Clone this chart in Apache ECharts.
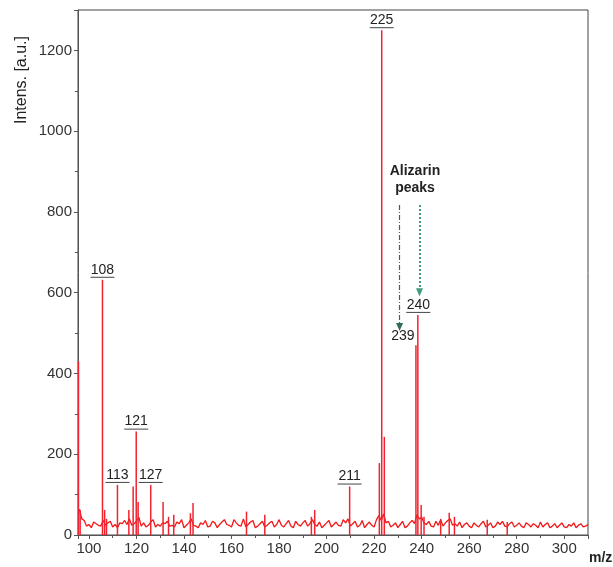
<!DOCTYPE html>
<html>
<head>
<meta charset="utf-8">
<script src="https://cdn.jsdelivr.net/npm/echarts@6/dist/echarts.min.js"></script>
<style>
  html, body { margin: 0; padding: 0; background: #fff; }
  #chart { width: 613px; height: 567px; }
</style>
</head>
<body>
<div id="chart"></div>
<script>
// noisy baseline, one value per m/z unit starting at baselineStart
const baselineStart = 96;
const baselineValues = [
  64, 40, 36, 22, 26, 18, 32, 28, 24, 22,
  36, 24, 30, 34, 20, 26, 18, 30, 28, 36,
  26, 40, 24, 28, 34, 44, 22, 30, 20, 24,
  32, 38, 20, 26, 22, 30, 28, 34, 22, 24,
  20, 32, 28, 38, 18, 24, 30, 40, 24, 22,
  18, 30, 26, 36, 20, 22, 34, 30, 18, 26,
  32, 38, 26, 24, 20, 38, 30, 24, 22, 40,
  20, 26, 32, 36, 18, 22, 28, 34, 20, 24,
  30, 34, 20, 26, 38, 24, 20, 28, 36, 22,
  18, 34, 26, 22, 30, 36, 22, 28, 38, 26,
  22, 32, 18, 24, 30, 36, 20, 26, 32, 24,
  22, 38, 30, 40, 22, 28, 34, 20, 24, 36,
  18, 26, 32, 24, 20, 38, 48, 36, 52, 30,
  34, 20, 24, 30, 18, 26, 34, 18, 22, 30,
  36, 28, 50, 40, 44, 30, 26, 34, 22, 20,
  34, 24, 38, 22, 30, 36, 40, 24, 28, 22,
  32, 18, 26, 30, 22, 18, 30, 24, 20, 28,
  34, 20, 24, 30, 18, 22, 32, 26, 34, 22,
  20, 28, 32, 20, 24, 30, 22, 18, 30, 26,
  20, 28, 24, 18, 32, 20, 26, 30, 18, 22,
  28, 18, 24, 30, 20, 18, 26, 22, 30, 18,
  24, 28, 20, 22, 26
];

// peaks [m/z, intensity]
const peaks = [
  [95.6, 430], [96.3, 62], [105.7, 632], [106.6, 62], [107.4, 40],
  [112.0, 124], [116.8, 62], [118.6, 120], [119.9, 256], [120.7, 82],
  [126.0, 124], [131.2, 82], [133.5, 45], [135.7, 50], [142.7, 54],
  [143.8, 79], [166.3, 58], [174.0, 50], [193.6, 45], [195.0, 62],
  [209.7, 120], [222.2, 178], [223.2, 1250], [224.3, 243],
  [237.6, 470], [238.4, 545], [239.8, 74], [241.0, 45],
  [248.0, 40], [251.6, 55], [253.8, 45], [267.6, 38], [276.0, 32]
];

// underlined peak labels [text, m/z, intensity]
const peakLabels = [
  ['108', 105.7, 632], ['113', 112.0, 124], ['121', 119.9, 256],
  ['127', 126.0, 124], ['211', 209.7, 120], ['225', 223.2, 1250],
  ['240', 238.6, 545]
];

// annotation arrows [m/z, from, to]
const arrows = [
  [230.7, 817, 515],
  [239.1, 817, 601]
];

const FONT = 'Liberation Sans';

const lineData = baselineValues.map((v, i) => [baselineStart + i, v]);

const chart = echarts.init(document.getElementById('chart'));

chart.setOption({
  animation: false,
  textStyle: { fontFamily: FONT },
  grid: {
    left: 78, right: 25, top: 10, bottom: 32,
    show: true, borderColor: '#444', borderWidth: 1
  },
  xAxis: {
    type: 'value',
    min: 95.4, max: 310,
    splitNumber: 10,
    axisLine: { lineStyle: { color: '#555' } },
    axisTick: { length: 4, lineStyle: { color: '#555' } },
    minorTick: { show: true, splitNumber: 2, length: 3, lineStyle: { color: '#555' } },
    axisLabel: {
      color: '#333', fontSize: 15, margin: 6, fontFamily: FONT,
      showMinLabel: false, showMaxLabel: false,
      formatter: v => String(v)
    },
    splitLine: { show: false }
  },
  yAxis: {
    type: 'value',
    min: 0, max: 1300, interval: 200,
    axisLine: { show: true, lineStyle: { color: '#555' } },
    axisTick: { show: true, length: 4, lineStyle: { color: '#555' } },
    minorTick: { show: true, splitNumber: 2, length: 3, lineStyle: { color: '#555' } },
    axisLabel: {
      color: '#333', fontSize: 15, margin: 6, fontFamily: FONT,
      showMaxLabel: false,
      formatter: v => String(v)
    },
    splitLine: { show: false }
  },
  series: [
    {
      type: 'line',
      data: lineData,
      symbol: 'none',
      lineStyle: { color: '#f01818', width: 1.3 },
      z: 2
    },
    {
      type: 'bar',
      data: peaks,
      barWidth: 1.5,
      itemStyle: { color: '#f2232f' },
      z: 3,
      markPoint: {
        symbol: 'rect',
        symbolSize: 0,
        silent: true,
        data: peakLabels.map(p => ({
          coord: [p[1], p[2]],
          label: {
            show: true,
            position: 'top',
            distance: 2,
            formatter: '{t|' + p[0] + '}\n{u|}',
            rich: {
              t: { fontSize: 14, color: '#222', fontFamily: FONT, lineHeight: 14, align: 'center' },
              u: { width: 24, height: 1, backgroundColor: '#444', align: 'center' }
            }
          }
        })).concat([
          {
            coord: [232.1, 492],
            label: { show: true, position: 'inside', formatter: '239', fontSize: 14, color: '#222' }
          },
          {
            coord: [237.2, 880],
            label: {
              show: true, position: 'inside', formatter: 'Alizarin\npeaks',
              fontSize: 14, fontWeight: 'bold', color: '#222', lineHeight: 17, align: 'center'
            }
          }
        ])
      },
      markLine: {
        silent: true,
        symbol: ['none', 'triangle'],
        symbolSize: [7, 8],
        label: { show: false },
        data: [
          [
            { coord: [arrows[0][0], arrows[0][1]], lineStyle: { color: '#2f6e58', type: [5, 2, 1, 2], width: 1.2 } },
            { coord: [arrows[0][0], arrows[0][2]] }
          ],
          [
            { coord: [arrows[1][0], arrows[1][1]], lineStyle: { color: '#3f9c80', type: [2, 2], width: 2 } },
            { coord: [arrows[1][0], arrows[1][2]] }
          ]
        ]
      }
    }
  ],
  graphic: [
    {
      type: 'text',
      x: 22, y: 36,
      rotation: Math.PI / 2,
      style: {
        text: 'Intens. [a.u.]',
        fontSize: 16, fontFamily: FONT, fill: '#222',
        align: 'right', verticalAlign: 'middle'
      }
    },
    {
      type: 'text',
      left: 589, top: 551,
      style: { text: 'm/z', fontSize: 14, fontWeight: 'bold', fontFamily: FONT, fill: '#222' }
    }
  ]
});
</script>
</body>
</html>
